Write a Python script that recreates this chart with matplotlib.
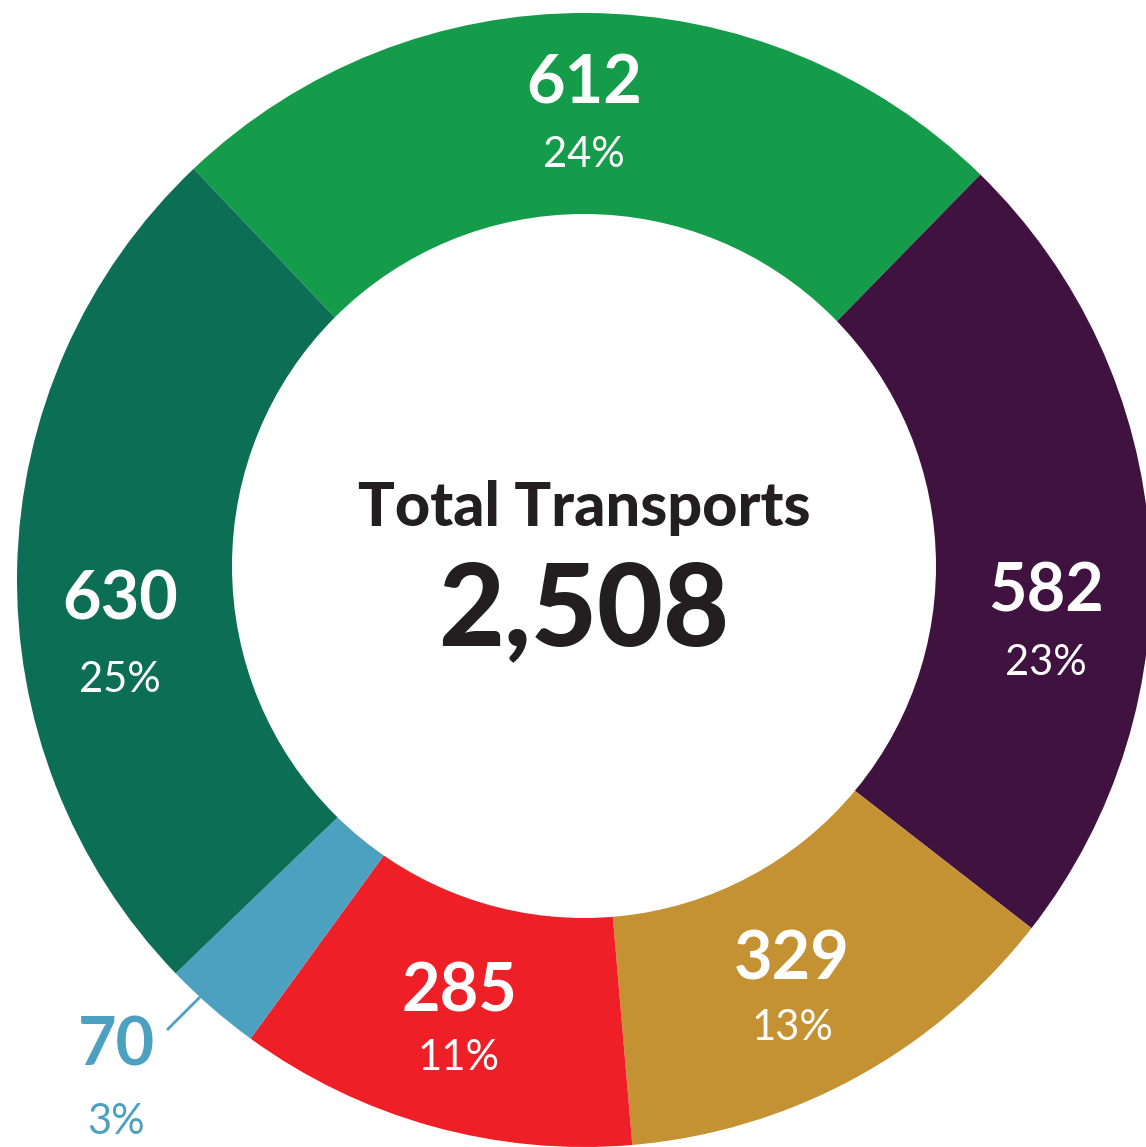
import matplotlib
matplotlib.use("Agg")
import matplotlib.pyplot as plt
from matplotlib.patches import Circle

# ---- data ----
categories = ["Green", "Purple", "Gold", "Red", "Blue", "Teal"]
values = [612, 582, 329, 285, 70, 630]
pct_labels = ["24%", "23%", "13%", "11%", "3%", "25%"]
total_label = "2,508"
title_label = "Total Transports"
colors = ["#149C4A", "#40123F", "#C49133", "#EE1F26", "#4BA1BF", "#0D6E56"]

# ---- layout (pixel space, y up) ----
W, H = 1146, 1147
fig = plt.figure(figsize=(W / 100, H / 100), dpi=100)
ax = fig.add_axes([0, 0, 1, 1])

cx, cy, R = 584, H - 580, 567
ax.pie(values, colors=colors, startangle=133.5, counterclock=False,
       center=(cx, cy), radius=R, frame=True,
       wedgeprops=dict(linewidth=0, antialiased=True))
ax.set_xlim(0, W)
ax.set_ylim(0, H)
ax.set_aspect("equal")
ax.axis("off")
ax.add_patch(Circle((584, H - 566), 352, facecolor="white", edgecolor="none", zorder=5))

font = "Lato"
# label anchor positions (image px, y down) for value / percent
label_pos = [(584, 85, 155), (1046, 592, 663), (792, 960, 1028),
             (459, 992, 1058), (116, 1047, 1122), (120, 600, 680)]
for i, (x, yv, yp) in enumerate(label_pos):
    c = "#4BA1BF" if categories[i] == "Blue" else "white"
    ax.text(x, H - yv, str(values[i]), ha="center", va="center", fontsize=48,
            fontweight="bold", color=c, family=font, zorder=6)
    ax.text(x, H - yp, pct_labels[i], ha="center", va="center", fontsize=30,
            fontweight="normal", color=c, family=font, zorder=6)

# leader line for small slice
ax.plot([168, 199], [H - 1029, H - 998], color="#4BA1BF", lw=2, zorder=6)

ax.text(584, H - 508, title_label, ha="center", va="center", fontsize=44,
        fontweight="black", color="#231F20", family=font, zorder=6)
ax.text(584, H - 612, total_label, ha="center", va="center", fontsize=82,
        fontweight="black", color="#231F20", family=font, zorder=6)

fig.savefig("out.png", dpi=100)
